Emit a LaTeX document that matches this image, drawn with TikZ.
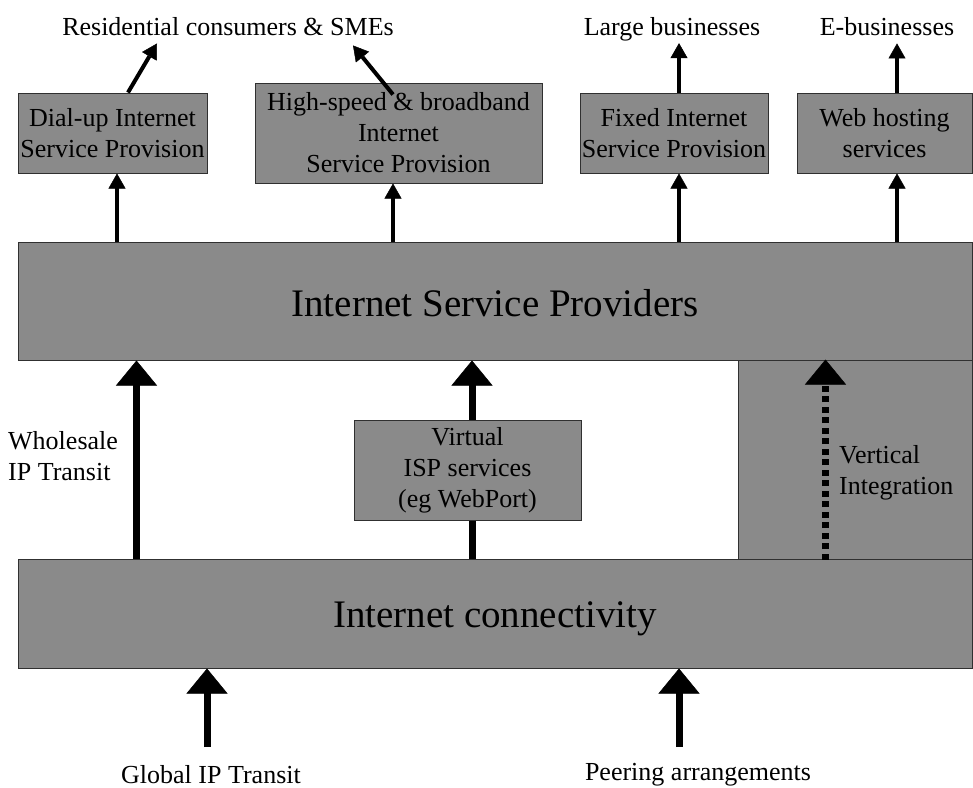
\documentclass[tikz,border=0pt]{standalone}
\usepackage{fontspec}
\setmainfont{Liberation Serif}
\usetikzlibrary{arrows.meta,calc}
\definecolor{boxgray}{HTML}{8A8A8A}
\definecolor{edgecol}{HTML}{303030}
\tikzset{
  box/.style={draw=edgecol, line width=1pt, fill=boxgray, inner sep=0pt, align=center,
              font=\fontsize{26}{31}\selectfont},
  lbl/.style={inner sep=0pt, align=left, font=\fontsize{26}{31}\selectfont},
  bigtext/.style={font=\fontsize{39}{44}\selectfont},
  thinarrow/.style={line width=4pt, -{Triangle[width=17pt,length=15pt,line width=0.5pt]}},
  thickarrow/.style={line width=7pt, -{Triangle[width=41pt,length=25pt,line width=0.5pt]}},
}
\begin{document}
\begin{tikzpicture}[x=1pt,y=-1pt]
\useasboundingbox (0,0) rectangle (973,787);

% boxes
\node[box, minimum width=234pt, minimum height=199pt] (vi) at (855,459.5) {};
\node[box, bigtext, minimum width=954pt, minimum height=118pt, text height=30pt, text depth=0pt] (isp) at (495,301) {Internet Service Providers};
\node[box, bigtext, minimum width=954pt, minimum height=109pt, text height=35pt, text depth=8pt] (ic) at (495,613.5) {Internet connectivity};
\node[box, minimum width=189pt, minimum height=80pt] (dial) at (112.5,133) {Dial-up Internet\\Service Provision};
\node[box, minimum width=287pt, minimum height=100pt] (hs) at (398.5,133) {High-speed \& broadband\\Internet\\Service Provision};
\node[box, minimum width=188pt, minimum height=80pt] (fixed) at (674,133) {Fixed Internet\\Service Provision};
\node[box, minimum width=175pt, minimum height=80pt] (web) at (884.5,133) {Web hosting\\services};
\node[box, minimum width=227pt, minimum height=100pt] (virt) at (467.5,470) {Virtual\\ISP services\\(eg WebPort)};

% labels
\node[lbl, anchor=base] (res) at (228,35) {Residential consumers \& SMEs};
\node[lbl, anchor=base] (large) at (672,35) {Large businesses};
\node[lbl, anchor=base] (ebiz) at (887,35) {E-businesses};
\node[lbl, anchor=west] (whole) at (8,456.5) {Wholesale\\IP Transit};
\node[lbl, anchor=west] (vit) at (839,472.5) {Vertical\\Integration};
\node[lbl, anchor=base] (glob) at (211,783) {Global IP Transit};
\node[lbl, anchor=base] (peer) at (698,780) {Peering arrangements};

% top arrows
\draw[thinarrow] ([xshift=4.5pt]dial.south |- isp.north) -- ([xshift=4.5pt]dial.south);
\draw[thinarrow] ([xshift=-5.5pt]hs.south |- isp.north) -- ([xshift=-5.5pt]hs.south);
\draw[thinarrow] ([xshift=5pt]fixed.south |- isp.north) -- ([xshift=5pt]fixed.south);
\draw[thinarrow] ([xshift=12.5pt]web.south |- isp.north) -- ([xshift=12.5pt]web.south);

\draw[thinarrow] ([xshift=15.5pt]dial.north) -- ($(res.south)+(-71,8)$);
\draw[thinarrow] ([xshift=-5.5pt,yshift=-12pt]hs.north) -- ($(res.south)+(125,10)$);
\draw[thinarrow] ([xshift=5pt]fixed.north) -- ([xshift=5pt]fixed.north |- {$(large.south)+(0,2.3)$});
\draw[thinarrow] ([xshift=12.5pt]web.north) -- ([xshift=12.5pt]web.north |- {$(ebiz.south)+(0,8)$});

% middle arrows
\draw[thickarrow] ($(ic.north west)+(119,0)$) -- ($(isp.south west)+(119,0)$);
\draw[thickarrow] ([xshift=4.5pt]virt.north) -- ([xshift=4.5pt]virt.north |- isp.south);
\draw[line width=7pt] ([xshift=4.5pt]virt.south) -- ([xshift=4.5pt]virt.south |- ic.north);
\draw[thickarrow, dash pattern=on 6pt off 4.5pt] ($(vi.south west)+(88,0)$) -- ($(vi.north west)+(88,0)$);

% bottom arrows
\coordinate (g0) at (207,747);
\coordinate (p0) at (679,747);
\draw[thickarrow] (g0) -- (g0 |- ic.south);
\draw[thickarrow] (p0) -- (p0 |- ic.south);
\end{tikzpicture}
\end{document}
